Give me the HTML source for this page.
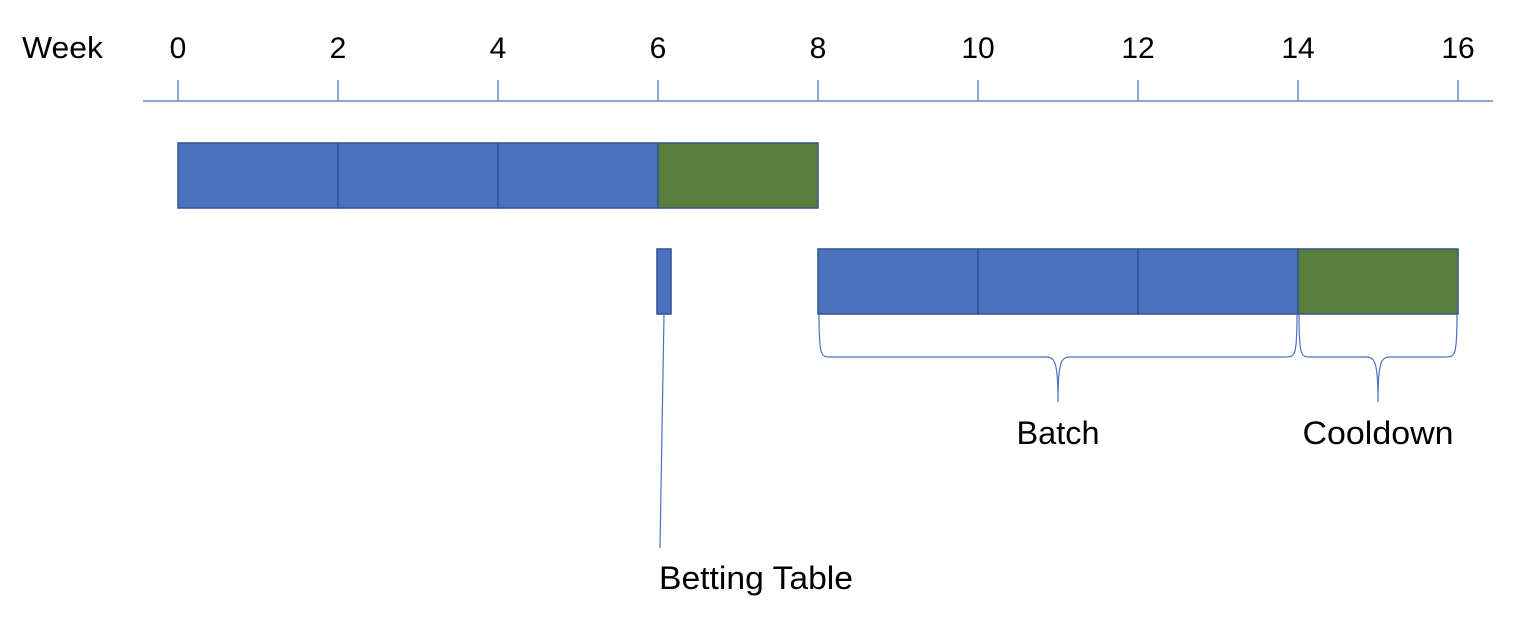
<!DOCTYPE html>
<html><head><meta charset="utf-8"><style>
body{margin:0;background:#fff;}
svg{display:block;font-family:"Liberation Sans",sans-serif;}
</style></head><body>
<svg id="chart" width="1516" height="628" viewBox="0 0 1516 628" xmlns="http://www.w3.org/2000/svg">
<text x="22" y="58" font-size="31" textLength="81" lengthAdjust="spacingAndGlyphs" fill="#000">Week</text>
<line x1="143" y1="101" x2="1493" y2="101" stroke="#4A72BE" stroke-width="1.3"/>
<g id="ticks"></g>
<g id="bars"></g>
<g id="annot"></g>
</svg>
<script>
const tickWeeks=[0,2,4,6,8,10,12,14,16];
const cycle1Starts=[0,2,4,6];
const cycle1Kinds=["build","build","build","cooldown"];
const cycle2Starts=[8,10,12,14];
const cycle2Kinds=["build","build","build","cooldown"];
const segLen=2;
const bettingWeek=[6,6.15];
const braceLabels=["Batch","Cooldown"];
const braceFrom=[8,14];
const braceTo=[14,16];

const NS="http://www.w3.org/2000/svg";
const x=w=>178+w*80;
function mk(tag,attrs,parent){const e=document.createElementNS(NS,tag);for(const k in attrs)e.setAttribute(k,attrs[k]);parent.appendChild(e);return e;}
const T=document.getElementById('ticks'),B=document.getElementById('bars'),A=document.getElementById('annot');
tickWeeks.forEach(w=>{
 const l=mk('line',{x1:x(w),y1:80,x2:x(w),y2:101,stroke:'#4A72BE','stroke-width':1.2},T);
 
 
 const t=mk('text',{x:x(w),y:58,'font-size':30,'text-anchor':'middle'},T);
 t.textContent=w;
 
 
});
const col={build:'#4A72BE',cooldown:'#5A7E3B'};
function row(starts,kinds,y0,h,nm){
 starts.forEach((s,i)=>{
  const r=mk('rect',{x:x(s),y:y0,width:x(s+segLen)-x(s),height:h,fill:col[kinds[i]],stroke:'#2F528F','stroke-width':1.5},B);
  
  
 });
}
row(cycle1Starts,cycle1Kinds,143,65,'cycle1');
row(cycle2Starts,cycle2Kinds,249,65,'cycle2');
const bt=mk('rect',{x:x(bettingWeek[0])-1,y:249,width:x(bettingWeek[1])-x(bettingWeek[0])+2,height:65,fill:'#4A72BE',stroke:'#2F528F','stroke-width':1.5},B);


const bl=mk('line',{x1:x(bettingWeek[0])+6,y1:314,x2:x(bettingWeek[0])+2,y2:548,stroke:'#4A72BE','stroke-width':1.2},A);


const btl=mk('text',{x:659,y:589,'font-size':32,textLength:194,lengthAdjust:'spacingAndGlyphs'},A);
btl.textContent='Betting Table';


const labelW={Batch:83,Cooldown:151};
braceLabels.forEach((lab,i)=>{
 const a=x(braceFrom[i])+1,c=x(braceTo[i])-1,m=(a+c)/2,y0=314,ym=357,yt=402;
 const d=`M${a},${y0} C${a},${ym} ${a+2},${ym} ${a+12},${ym} L${m-12},${ym} C${m-3},${ym} ${m},${ym+5} ${m},${yt} C${m},${ym+5} ${m+3},${ym} ${m+12},${ym} L${c-12},${ym} C${c-2},${ym} ${c},${ym} ${c},${y0}`;
 const p=mk('path',{d:d,fill:'none',stroke:'#4A72BE','stroke-width':1.2},A);
 
 
 const t=mk('text',{x:m-labelW[lab]/2,y:444,'font-size':32,textLength:labelW[lab],lengthAdjust:'spacingAndGlyphs'},A);
 t.textContent=lab;
 
 
});
</script>
</body></html>
